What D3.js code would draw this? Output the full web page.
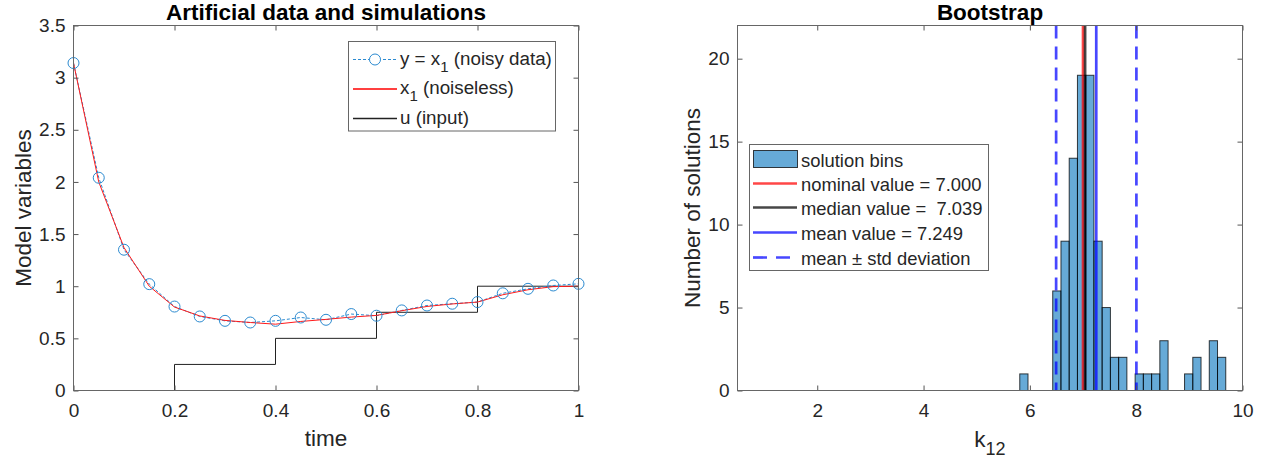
<!DOCTYPE html>
<html><head><meta charset="utf-8">
<script src="https://cdn.jsdelivr.net/npm/d3@7"></script>
<style>
body{margin:0;background:#fff}
text{font-family:"Liberation Sans",Arial,sans-serif;fill:#262626}
</style></head>
<body><svg id="c" width="1268" height="463"></svg>
<script>
// ---------- data (left panel) ----------
const timePoints = [0,0.05,0.1,0.15,0.2,0.25,0.3,0.35,0.4,0.45,0.5,0.55,0.6,0.65,0.7,0.75,0.8,0.85,0.9,0.95,1];
const noisyData = [3.14,2.04,1.35,1.02,0.805,0.71,0.668,0.652,0.668,0.70,0.678,0.733,0.717,0.768,0.815,0.832,0.848,0.932,0.975,1.007,1.023];
const noiselessData = [3.14,2.0,1.37,1.0,0.80,0.715,0.672,0.652,0.636,0.662,0.682,0.704,0.72,0.765,0.806,0.83,0.848,0.918,0.966,0.996,1.0];
const inputTimes = [0,0.2,0.4,0.6,0.8,1];
const inputValues = [0,0.25,0.5,0.75,1,1];
const leftXTicks = [0,0.2,0.4,0.6,0.8,1];
const leftYTicks = [0,0.5,1,1.5,2,2.5,3,3.5];

// ---------- data (right panel) ----------
const binEdges = [5.81,5.965,6.12,6.275,6.43,6.585,6.74,6.895,7.05,7.205,7.36,7.515,7.67,7.825,7.98,8.135,8.29,8.445,8.6,8.755,8.91,9.065,9.22,9.375,9.53,9.685];
const binCounts = [1,0,0,0,6,9,14,19,19,9,5,2,2,0,1,1,1,3,0,0,1,2,0,3,2];
const nominalValue = 7.000, medianValue = 7.039, meanValue = 7.249, stdValue = 0.755;
const rightXTicks = [2,4,6,8,10];
const rightYTicks = [0,5,10,15,20];

const svg = d3.select("#c");
svg.append("rect").attr("width",1268).attr("height",463).attr("fill","#fff");

function frame(g, x, y, xt, yt, xfmt, yfmt) {
  const [x0,x1] = x.range(), [y0,y1] = y.range();
  const ax = g.append("g").attr("transform",`translate(0,${y0})`)
    .call(d3.axisBottom(x).tickValues(xt).tickFormat(xfmt).tickSizeInner(-5).tickSizeOuter(0).tickPadding(13));
  const ay = g.append("g").attr("transform",`translate(${x0},0)`)
    .call(d3.axisLeft(y).tickValues(yt).tickFormat(yfmt).tickSizeInner(-5).tickSizeOuter(0).tickPadding(8));
  const at = g.append("g").attr("transform",`translate(0,${y1})`)
    .call(d3.axisTop(x).tickValues(xt).tickFormat("").tickSizeInner(-5).tickSizeOuter(0));
  const ar = g.append("g").attr("transform",`translate(${x1},0)`)
    .call(d3.axisRight(y).tickValues(yt).tickFormat("").tickSizeInner(-5).tickSizeOuter(0));
  [ax,ay,at,ar].forEach(a=>{
    a.select(".domain").remove();
    a.selectAll("line").attr("stroke","#555");
    a.selectAll("text").attr("font-size","19px").attr("fill","#262626")
      .style("font-family",'"Liberation Sans",Arial,sans-serif');
  });
  g.append("rect").attr("x",x0).attr("y",y1).attr("width",x1-x0).attr("height",y0-y1)
    .attr("fill","none").attr("stroke","#666").attr("stroke-width",1);
}

// ================= LEFT PANEL =================
const L = svg.append("g");
const xL = d3.scaleLinear().domain([0,1]).range([73.5,578.5]);
const yL = d3.scaleLinear().domain([0,3.5]).range([390.5,25.5]);

const pts = timePoints.map((t,i)=>({t, n:noisyData[i], c:noiselessData[i]}));
const inp = inputTimes.map((t,i)=>({t, v:inputValues[i]}));

const plotL = L.append("g");
plotL.append("path").datum(inp)
  .attr("d", d3.line().x(d=>xL(d.t)).y(d=>yL(d.v)).curve(d3.curveStepAfter))
  .attr("fill","none").attr("stroke","#222").attr("stroke-width",1);
plotL.append("path").datum(pts)
  .attr("d", d3.line().x(d=>xL(d.t)).y(d=>yL(d.n)))
  .attr("fill","none").attr("stroke","#2b8ad0").attr("stroke-width",1).attr("stroke-dasharray","3,2");
plotL.append("path").datum(pts)
  .attr("d", d3.line().x(d=>xL(d.t)).y(d=>yL(d.c)))
  .attr("fill","none").attr("stroke","#ff1a1a").attr("stroke-width",1);
plotL.selectAll("circle.m").data(pts).enter().append("circle")
  .attr("cx",d=>xL(d.t)).attr("cy",d=>yL(d.n)).attr("r",5.5)
  .attr("fill","none").attr("stroke","#2b8ad0").attr("stroke-width",1);

frame(L, xL, yL, leftXTicks, leftYTicks, d=>String(d), d=>String(d));

L.append("text").attr("x",326).attr("y",20).attr("text-anchor","middle")
  .attr("font-size","22.5px").attr("font-weight","bold").style("fill","#000")
  .text("Artificial data and simulations");
L.append("text").attr("x",326).attr("y",446).attr("text-anchor","middle")
  .attr("font-size","22.5px").text("time");
L.append("text").attr("transform","translate(30.5,208) rotate(-90)").attr("text-anchor","middle")
  .attr("font-size","22.5px").text("Model variables");

// left legend
const lg = L.append("g");
lg.append("rect").attr("x",348.5).attr("y",41.5).attr("width",207).attr("height",89.5)
  .attr("fill","#fff").attr("stroke","#666").attr("stroke-width",1);
const legL = [
  {y:59.5, col:"#2b8ad0", dash:"3,2", marker:true, pre:"y = x", sub:"1", post:" (noisy data)"},
  {y:89, col:"#ff0000", dash:null, marker:false, pre:"x", sub:"1", post:" (noiseless)"},
  {y:118.5, col:"#222222", dash:null, marker:false, pre:"u (input)", sub:"", post:""}
];
legL.forEach(e=>{
  const ln = lg.append("path").attr("d",`M353,${e.y}H397`)
    .attr("fill","none").attr("stroke",e.col).attr("stroke-width",e.marker?1.2:1.4);
  if (e.dash) ln.attr("stroke-dasharray",e.dash);
  if (e.marker) lg.append("circle").attr("cx",375).attr("cy",e.y).attr("r",5.5)
    .attr("fill","#fff").attr("stroke",e.col);
  const t = lg.append("text").attr("x",400).attr("y",Math.round(e.y)+4.5).attr("font-size","18.8px")
    .attr("xml:space","preserve").style("white-space","pre");
  t.append("tspan").text(e.pre);
  if (e.sub) {
    t.append("tspan").attr("dy",7).attr("font-size","15px").text(e.sub);
    t.append("tspan").attr("dy",-7).text(e.post);
  }
});

// ================= RIGHT PANEL =================
const R = svg.append("g");
const xR = d3.scaleLinear().domain([0.5,10]).range([737.5,1242.5]);
const yR = d3.scaleLinear().domain([0,22]).range([390.5,25.5]);

const bins = binCounts.map((c,i)=>({x0:binEdges[i], x1:binEdges[i+1], c})).filter(d=>d.c>0);
R.selectAll("rect.bar").data(bins).enter().append("rect")
  .attr("x",d=>xR(d.x0)).attr("width",d=>xR(d.x1)-xR(d.x0))
  .attr("y",d=>yR(d.c)).attr("height",d=>yR(0)-yR(d.c))
  .attr("fill","#0072BD").attr("fill-opacity",0.6)
  .attr("stroke","#000").attr("stroke-opacity",0.75).attr("stroke-width",1);

const statLines = [
  {v:nominalValue, col:"#ff0000", dash:null},
  {v:medianValue, col:"#000000", dash:null},
  {v:meanValue, col:"#0000ff", dash:null},
  {v:meanValue-stdValue, col:"#0000ff", dash:"13,8"},
  {v:meanValue+stdValue, col:"#0000ff", dash:"13,8"}
];
statLines.forEach(s=>{
  R.append("line").attr("x1",xR(s.v)).attr("x2",xR(s.v)).attr("y1",yR(22)).attr("y2",yR(0))
    .attr("stroke",s.col).attr("stroke-opacity",0.72).attr("stroke-width",2.7)
    .attr("stroke-dasharray",s.dash);
});

frame(R, xR, yR, rightXTicks, rightYTicks, d=>String(d), d=>String(d));

R.append("text").attr("x",990).attr("y",20).attr("text-anchor","middle")
  .attr("font-size","22.5px").attr("font-weight","bold").style("fill","#000").text("Bootstrap");
const kl = R.append("text").attr("x",990).attr("y",447).attr("text-anchor","middle").attr("font-size","22.5px");
kl.append("tspan").text("k");
kl.append("tspan").attr("dy",8).attr("font-size","18px").text("12");
R.append("text").attr("transform","translate(700,208) rotate(-90)").attr("text-anchor","middle")
  .attr("font-size","22.5px").text("Number of solutions");

// right legend
const rg = R.append("g");
rg.append("rect").attr("x",749.5).attr("y",144.5).attr("width",239).attr("height",126)
  .attr("fill","#fff").attr("stroke","#666").attr("stroke-width",1);
rg.append("rect").attr("x",753.5).attr("y",150.5).attr("width",44).attr("height",17)
  .attr("fill","#0072BD").attr("fill-opacity",0.6).attr("stroke","#000").attr("stroke-opacity",0.75);
const legR = [
  {y:159, label:"solution bins", line:null},
  {y:183.5, label:"nominal value = " + nominalValue.toFixed(3), line:statLines[0]},
  {y:207.5, label:"median value =  " + medianValue.toFixed(3), line:statLines[1]},
  {y:232.5, label:"mean value = " + meanValue.toFixed(3), line:statLines[2]},
  {y:257.5, label:"mean \u00b1 std deviation", line:statLines[3]}
];
legR.forEach(e=>{
  if (e.line) rg.append("line").attr("x1",753).attr("x2",797).attr("y1",e.y).attr("y2",e.y)
    .attr("stroke",e.line.col).attr("stroke-opacity",0.72).attr("stroke-width",2.7)
    .attr("stroke-dasharray",e.line.dash ? "14,9" : null);
  rg.append("text").attr("x",801).attr("y",e.y+7.5).attr("font-size","18.4px")
    .attr("xml:space","preserve").style("white-space","pre").text(e.label);
});
</script></body></html>
